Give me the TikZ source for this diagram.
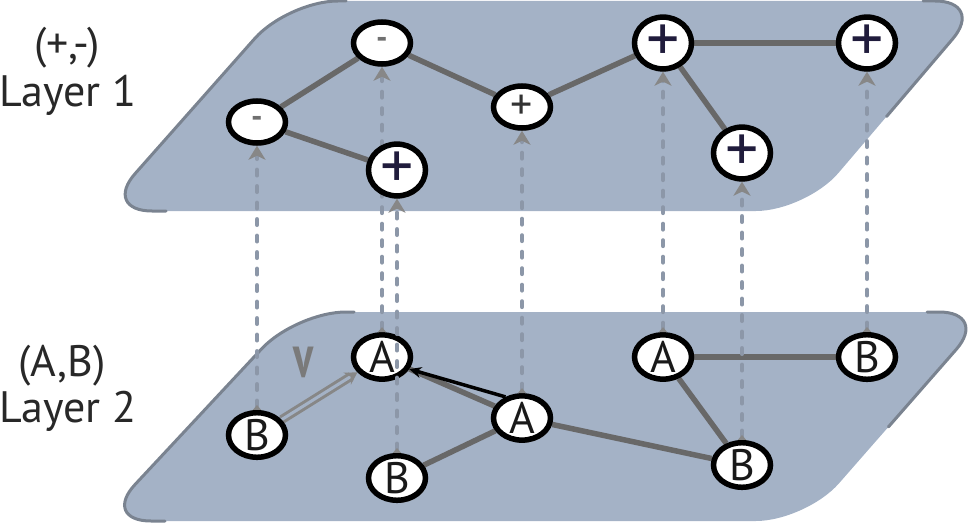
\documentclass[tikz,border=0pt]{standalone}
\usepackage{fontspec}
\setmainfont{PT Sans}
\usetikzlibrary{arrows.meta,shapes.geometric,shadows,calc}
\definecolor{plane}{RGB}{164,178,198}
\definecolor{planeedge}{RGB}{122,131,144}
\definecolor{edgegray}{RGB}{104,104,104}
\definecolor{dashc}{RGB}{140,151,168}
\definecolor{tipgray}{RGB}{135,135,135}
\definecolor{labelc}{RGB}{40,40,40}
\definecolor{plusc}{RGB}{32,28,60}
\definecolor{minusc}{RGB}{112,112,112}
\definecolor{dblgray}{RGB}{135,135,135}
\pgfdeclarelayer{bg}
\pgfdeclarelayer{edgel}
\pgfdeclarelayer{dashl}
\pgfdeclarelayer{front}
\pgfsetlayers{bg,edgel,main,dashl,front}
\begin{document}
\begin{tikzpicture}[x=1pt,y=-1pt,
  vnode/.style={ellipse, draw=black, line width=5.5pt, fill=white,
    minimum width=57pt, minimum height=42pt, inner sep=0pt,
    font=\fontsize{44}{44}\selectfont,
    drop shadow={shadow xshift=1.5pt, shadow yshift=-2.5pt, fill=black!50, opacity=1}},
  plusn/.style={vnode, text=plusc, font=\fontsize{66}{66}\selectfont},
  pluss/.style={vnode, text=black!80, font=\fontsize{44}{44}\selectfont},
  minusn/.style={vnode, text=minusc, font=\fontsize{32}{32}\selectfont\bfseries},
  letn/.style={vnode, text=black!90},
  lbl/.style={text=labelc, font=\fontsize{44}{44}\selectfont, inner sep=0pt},
  gedge/.style={draw=edgegray, line width=5.5pt},
  vdash/.style={draw=dashc, line width=4.5pt, line cap=round, dash pattern=on 5.5pt off 11pt,
    {Triangle[length=5pt,width=8pt,reversed,color=tipgray]}-{Stealth[length=14pt,width=17pt,inset=4pt,color=tipgray]}},
  planefill/.style={fill=plane, rounded corners=50pt},
  planestroke/.style={draw=planeedge, line width=3pt, rounded corners=50pt, line cap=round}
]
\useasboundingbox (0,0) rectangle (969,524);
\clip (0,0) rectangle (969,524);

% planes
\coordinate (TL1) at (288,1);
\coordinate (TR1) at (985,1);
\coordinate (BR1) at (806,211);
\coordinate (BL1) at (102,211);
\coordinate (TL2) at (296,312);
\coordinate (TR2) at (989,312);
\coordinate (BR2) at (806,521);
\coordinate (BL2) at (101,521);
\begin{pgfonlayer}{bg}
\fill[planefill] ($(TL1)!0.5!(TR1)$) -- (TR1) -- (BR1) -- (BL1) -- (TL1) -- cycle;
\draw[planestroke] ($(BL1)+(64,0)$) -- (BL1) -- (TL1) -- ($(TL1)+(58,0)$);
\draw[planestroke] ($(TR1)+(-62,0)$) -- (TR1) -- ($(TR1)!0.55!(BR1)$);
\fill[planefill] ($(TL2)!0.5!(TR2)$) -- (TR2) -- (BR2) -- (BL2) -- (TL2) -- cycle;
\draw[planestroke] ($(BL2)+(64,0)$) -- (BL2) -- (TL2) -- ($(TL2)+(58,0)$);
\draw[planestroke] ($(TR2)+(-62,0)$) -- (TR2) -- ($(TR2)!0.55!(BR2)$);
\end{pgfonlayer}

% labels
\node[lbl] (l1a) at (67,48) {(+,-)};
\node[lbl] (l1b) at (68,95) {Layer 1};
\node[lbl] (l2a) at (62,366) {(A,B)};
\node[lbl] (l2b) at (68,411) {Layer 2};

% bottom layer nodes
\node[letn] (M1) at (257,435) {B};
\node[letn] (M2) at (382,357) {A};
\node[letn] (M3) at (397,478) {B};
\node[letn] (M4) at (522,418) {A};
\node[letn] (M5) at (663,357) {A};
\node[letn] (M6) at (867,357) {B};
\node[letn] (M7) at (742,465) {B};

% top layer nodes
\begin{pgfonlayer}{front}
\node[minusn] (N1) at (257,122) {\raisebox{-0.1em}{-}};
\node[minusn] (N2) at (382,43) {\raisebox{-0.1em}{-}};
\node[plusn] (N3) at (397,170) {+};
\node[pluss] (N4) at (522,107) {+};
\node[plusn] (N5) at (663,43) {+};
\node[plusn] (N6) at (867,43) {+};
\node[plusn] (N7) at (742,153) {+};
\end{pgfonlayer}

% edges
\begin{pgfonlayer}{edgel}
\draw[gedge] (N1) -- (N2);
\draw[gedge] (N1) -- (N3);
\draw[gedge] (N2) -- (N4);
\draw[gedge] (N4) -- (N5);
\draw[gedge] (N5) -- (N6);
\draw[gedge] (N5) -- (N7);
\draw[gedge] (M2) -- (M4);
\draw[gedge] (M3) -- (M4);
\draw[gedge] (M4) -- (M7);
\draw[gedge] (M5) -- (M7);
\draw[gedge] (M5) -- (M6);
\draw[draw=dblgray, line width=3pt, double=plane, double distance=3pt,
  -{Stealth[length=12pt,width=14pt,color=dblgray]}] (M1) -- (M2);
\draw[black, line width=3.5pt, -{Stealth[length=12pt,width=11pt]}] (M4.128) -- (M2.-24);
\end{pgfonlayer}
\node[text=black!52, font=\fontsize{42}{42}\selectfont\bfseries, inner sep=0pt] (vlab) at (304,362) {\scalebox{1}[1.45]{v}};

% inter-layer dashed connectors
\begin{pgfonlayer}{dashl}
\draw[vdash] (M1.north) -- (N1.south);
\draw[vdash] (M2.north) -- (N2.south);
\draw[vdash] (M3.north) -- (N3.south);
\draw[vdash] (M4.north) -- (N4.south);
\draw[vdash] (M5.north) -- (N5.south);
\draw[vdash] (M7.north) -- (N7.south);
\draw[vdash] (M6.north) -- (N6.south);
\end{pgfonlayer}
\end{tikzpicture}
\end{document}
